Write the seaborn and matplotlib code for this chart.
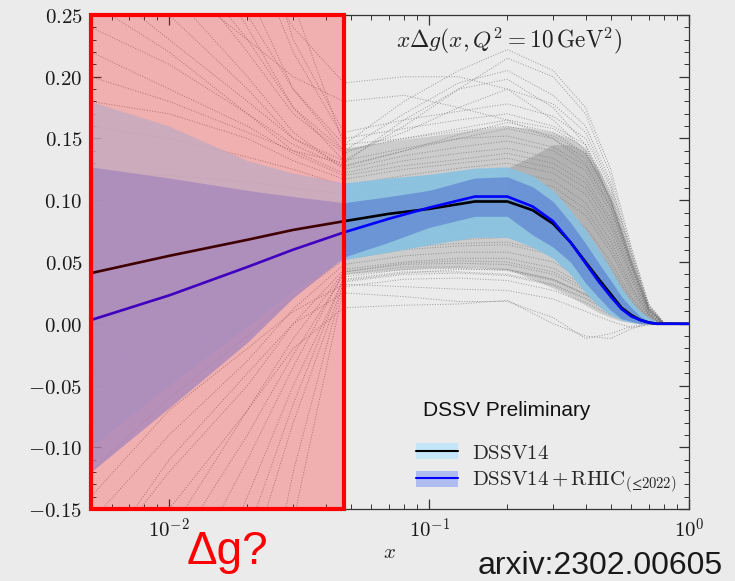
import numpy as np
import pandas as pd
import matplotlib
matplotlib.use("Agg")
import matplotlib.pyplot as plt
from matplotlib.patches import Rectangle, Patch
from matplotlib.lines import Line2D
from matplotlib.ticker import FuncFormatter, MultipleLocator, LogLocator, NullFormatter
import seaborn as sns

# ---------------------------------------------------------------- data
# x grid of the central fits and their uncertainty bands
x_grid = [0.005, 0.01, 0.02, 0.03, 0.047, 0.07, 0.1, 0.15, 0.2, 0.25, 0.3, 0.35,
          0.4, 0.45, 0.5, 0.55, 0.6, 0.65, 0.7, 0.75, 0.8, 0.9, 1.0]

dssv14_central = [0.041, 0.055, 0.068, 0.076, 0.083, 0.089, 0.093, 0.099, 0.099, 0.092, 0.081, 0.066,
                  0.050, 0.036, 0.024, 0.013, 0.007, 0.003, 0.001, 0.0, 0.0, 0.0, 0.0]
dssv14_upper = [0.180, 0.160, 0.132, 0.122, 0.114, 0.118, 0.121, 0.126, 0.127, 0.120, 0.108, 0.092,
                0.076, 0.060, 0.044, 0.029, 0.018, 0.010, 0.005, 0.002, 0.0, 0.0, 0.0]
dssv14_lower = [-0.100, -0.050, -0.002, 0.026, 0.052, 0.058, 0.064, 0.070, 0.070, 0.062, 0.053, 0.040,
                0.025, 0.014, 0.007, 0.003, 0.001, 0.0, 0.0, 0.0, 0.0, 0.0, 0.0]

rhic_central = [0.003, 0.023, 0.046, 0.060, 0.074, 0.085, 0.094, 0.103, 0.103, 0.095, 0.083, 0.066,
                0.049, 0.034, 0.022, 0.012, 0.006, 0.003, 0.001, 0.0, 0.0, 0.0, 0.0]
rhic_upper = [0.127, 0.118, 0.108, 0.103, 0.098, 0.103, 0.108, 0.118, 0.119, 0.111, 0.099, 0.082,
              0.065, 0.049, 0.035, 0.022, 0.013, 0.006, 0.002, 0.0, 0.0, 0.0, 0.0]
rhic_lower = [-0.120, -0.068, -0.015, 0.021, 0.054, 0.066, 0.078, 0.087, 0.087, 0.072, 0.062, 0.050,
              0.033, 0.021, 0.011, 0.004, 0.002, 0.0, 0.0, 0.0, 0.0, 0.0, 0.0]

# envelope of the densely populated replica region
core_x = [0.047, 0.07, 0.1, 0.15, 0.2, 0.25, 0.3, 0.35, 0.4, 0.45, 0.5, 0.55, 0.6, 0.65, 0.7, 0.75, 0.8]
core_hi = [0.142, 0.148, 0.152, 0.157, 0.160, 0.158, 0.155, 0.150, 0.141, 0.125, 0.104, 0.078,
           0.052, 0.030, 0.012, 0.003, 0.0]
core_lo = [0.040, 0.043, 0.045, 0.046, 0.044, 0.036, 0.029, 0.022, 0.015, 0.009, 0.005, 0.002,
           0.001, 0.0, 0.0, 0.0, 0.0]

# where the replicas pile up while falling off at large x
fall_x = [0.2, 0.25, 0.3, 0.35, 0.4, 0.45, 0.5, 0.55, 0.6, 0.65, 0.7, 0.75, 0.8]
fall_hi = [0.126, 0.136, 0.145, 0.145, 0.138, 0.122, 0.100, 0.075, 0.050, 0.028, 0.011, 0.003, 0.0]
fall_lo = [0.100, 0.090, 0.080, 0.064, 0.048, 0.034, 0.022, 0.012, 0.006, 0.003, 0.001, 0.0, 0.0]

# individual replicas of the DSSV14 fit
rep_x = [0.005, 0.01, 0.02, 0.03, 0.047, 0.08, 0.13, 0.2, 0.3, 0.4, 0.5, 0.6, 0.7, 0.8, 1.0]

reps_upper = [
    [0.62, 0.46, 0.31, 0.22, 0.150, 0.158, 0.165, 0.170, 0.160, 0.145, 0.107, 0.054, 0.013, 0.0, 0.0],
    [0.52, 0.39, 0.27, 0.19, 0.140, 0.150, 0.156, 0.160, 0.152, 0.138, 0.100, 0.050, 0.012, 0.0, 0.0],
    [0.44, 0.34, 0.24, 0.175, 0.132, 0.142, 0.150, 0.152, 0.143, 0.128, 0.094, 0.047, 0.011, 0.0, 0.0],
    [0.37, 0.30, 0.22, 0.17, 0.138, 0.155, 0.175, 0.190, 0.178, 0.155, 0.112, 0.058, 0.014, 0.001, 0.0],
    [0.33, 0.27, 0.20, 0.155, 0.125, 0.136, 0.143, 0.148, 0.140, 0.124, 0.090, 0.045, 0.010, 0.0, 0.0],
    [0.30, 0.25, 0.19, 0.15, 0.128, 0.140, 0.150, 0.158, 0.150, 0.134, 0.098, 0.049, 0.012, 0.0, 0.0],
    [0.28, 0.23, 0.18, 0.15, 0.132, 0.160, 0.190, 0.215, 0.200, 0.170, 0.120, 0.060, 0.015, 0.001, 0.0],
    [0.26, 0.22, 0.17, 0.14, 0.122, 0.132, 0.138, 0.142, 0.134, 0.118, 0.085, 0.042, 0.010, 0.0, 0.0],
    [0.24, 0.21, 0.17, 0.145, 0.127, 0.140, 0.153, 0.163, 0.155, 0.138, 0.102, 0.052, 0.013, 0.0, 0.0],
    [0.22, 0.19, 0.16, 0.138, 0.120, 0.128, 0.133, 0.138, 0.130, 0.114, 0.082, 0.040, 0.009, 0.0, 0.0],
    [0.20, 0.18, 0.155, 0.14, 0.130, 0.165, 0.190, 0.198, 0.175, 0.145, 0.100, 0.048, 0.011, 0.0, 0.0],
    [0.46, 0.35, 0.25, 0.19, 0.145, 0.180, 0.205, 0.222, 0.205, 0.175, 0.125, 0.062, 0.016, 0.001, 0.0],
    [0.75, 0.55, 0.35, 0.23, 0.155, 0.165, 0.172, 0.178, 0.168, 0.150, 0.110, 0.056, 0.014, 0.0, 0.0],
    [0.18, 0.17, 0.15, 0.132, 0.117, 0.125, 0.130, 0.134, 0.126, 0.110, 0.078, 0.038, 0.008, 0.0, 0.0],
    [0.95, 0.68, 0.42, 0.26, 0.145, 0.150, 0.158, 0.165, 0.158, 0.142, 0.105, 0.052, 0.012, 0.0, 0.0],
    [0.40, 0.31, 0.23, 0.175, 0.140, 0.170, 0.195, 0.205, 0.185, 0.160, 0.115, 0.056, 0.013, 0.0, 0.0],
    [0.50, 0.40, 0.30, 0.24, 0.195, 0.200, 0.200, 0.190, 0.165, 0.140, 0.100, 0.050, 0.012, 0.0, 0.0],
    [0.32, 0.28, 0.23, 0.20, 0.180, 0.185, 0.175, 0.165, 0.150, 0.130, 0.095, 0.046, 0.011, 0.0, 0.0],
]

reps_core = [
    [0.16, 0.15, 0.135, 0.125, 0.112, 0.120, 0.126, 0.130, 0.122, 0.105, 0.073, 0.035, 0.008, 0.0, 0.0],
    [0.12, 0.12, 0.115, 0.11, 0.105, 0.114, 0.120, 0.124, 0.116, 0.098, 0.067, 0.031, 0.007, 0.0, 0.0],
    [0.08, 0.085, 0.09, 0.092, 0.094, 0.104, 0.110, 0.114, 0.106, 0.088, 0.058, 0.026, 0.006, 0.0, 0.0],
    [0.04, 0.055, 0.07, 0.077, 0.083, 0.094, 0.100, 0.104, 0.096, 0.078, 0.050, 0.022, 0.005, 0.0, 0.0],
    [0.0, 0.025, 0.05, 0.062, 0.074, 0.084, 0.089, 0.092, 0.085, 0.068, 0.043, 0.018, 0.004, 0.0, 0.0],
    [-0.04, -0.005, 0.03, 0.05, 0.066, 0.076, 0.080, 0.082, 0.075, 0.058, 0.035, 0.014, 0.003, 0.0, 0.0],
    [0.10, 0.10, 0.10, 0.10, 0.099, 0.109, 0.115, 0.119, 0.111, 0.093, 0.062, 0.029, 0.007, 0.0, 0.0],
    [0.02, 0.04, 0.06, 0.07, 0.078, 0.089, 0.095, 0.098, 0.090, 0.073, 0.046, 0.020, 0.004, 0.0, 0.0],
]

reps_lower = [
    [-0.08, -0.03, 0.01, 0.035, 0.058, 0.065, 0.068, 0.070, 0.062, 0.046, 0.026, 0.009, 0.002, 0.0, 0.0],
    [-0.12, -0.06, -0.01, 0.022, 0.052, 0.060, 0.063, 0.064, 0.056, 0.040, 0.022, 0.008, 0.001, 0.0, 0.0],
    [-0.16, -0.09, -0.03, 0.012, 0.048, 0.055, 0.058, 0.058, 0.050, 0.035, 0.019, 0.006, 0.001, 0.0, 0.0],
    [-0.20, -0.12, -0.05, 0.0, 0.044, 0.050, 0.053, 0.053, 0.045, 0.031, 0.016, 0.005, 0.001, 0.0, 0.0],
    [-0.25, -0.15, -0.07, -0.012, 0.042, 0.048, 0.049, 0.048, 0.040, 0.027, 0.014, 0.004, 0.0, 0.0, 0.0],
    [-0.30, -0.19, -0.09, -0.025, 0.040, 0.046, 0.046, 0.044, 0.036, 0.024, 0.012, 0.003, 0.0, 0.0, 0.0],
    [-0.36, -0.23, -0.11, -0.035, 0.042, 0.049, 0.051, 0.050, 0.042, 0.029, 0.015, 0.004, 0.0, 0.0, 0.0],
    [-0.45, -0.29, -0.14, -0.05, 0.036, 0.042, 0.042, 0.040, 0.032, 0.021, 0.010, 0.003, 0.0, 0.0, 0.0],
    [-0.55, -0.35, -0.17, -0.065, 0.038, 0.044, 0.045, 0.043, 0.035, 0.023, 0.011, 0.003, 0.0, 0.0, 0.0],
    [-0.20, -0.11, -0.04, 0.0, 0.025, 0.022, 0.018, 0.018, 0.005, -0.012, -0.008, -0.002, 0.0, 0.0, 0.0],
    [-0.30, -0.17, -0.07, -0.02, 0.013, 0.015, 0.016, 0.019, 0.0, -0.010, -0.012, -0.004, 0.0, 0.0, 0.0],
    [-0.14, -0.07, -0.02, 0.01, 0.032, 0.030, 0.028, 0.027, 0.020, 0.010, 0.002, -0.003, -0.001, 0.0, 0.0],
    [-0.65, -0.42, -0.20, -0.08, 0.034, 0.040, 0.041, 0.039, 0.031, 0.020, 0.009, 0.002, 0.0, 0.0, 0.0],
    [-0.10, -0.045, 0.0, 0.03, 0.055, 0.062, 0.065, 0.066, 0.058, 0.043, 0.024, 0.008, 0.001, 0.0, 0.0],
    [-1.20, -0.80, -0.40, -0.16, 0.030, 0.036, 0.037, 0.035, 0.027, 0.017, 0.007, 0.001, 0.0, 0.0, 0.0],
    [-0.90, -0.60, -0.30, -0.12, 0.035, 0.041, 0.044, 0.044, 0.036, 0.024, 0.012, 0.003, 0.0, 0.0, 0.0],
]

# small-x region where the gluon polarisation is unconstrained
small_x_edges = [0.005, 0.047]

x_limits = [0.005, 1.0]
y_limits = [-0.15, 0.25]
label_dssv14 = r"$\mathrm{DSSV14}$"
label_rhic = r"$\mathrm{DSSV14+RHIC}_{(≤2022)}$"

# ---------------------------------------------------------------- style
BG = "#ebebeb"
sns.set_style("ticks")
plt.rcParams.update({
    "font.family": ["DejaVu Sans"],
    "mathtext.fontset": "cm",
    "figure.facecolor": BG,
    "axes.facecolor": BG,
    "axes.edgecolor": "#333333",
    "axes.linewidth": 0.9,
    "xtick.color": "#333333",
    "ytick.color": "#333333",
    "xtick.labelcolor": "#1a1a1a",
    "ytick.labelcolor": "#1a1a1a",
})

fig = plt.figure(figsize=(7.35, 5.81), dpi=100)
ax = fig.add_axes([0.1238, 0.1239, 0.9374 - 0.1238, 0.9742 - 0.1239])
ax.set_xscale("log")

xg = np.array(x_grid)
left = xg <= small_x_edges[1] + 1e-9
right = xg >= small_x_edges[1] - 1e-9

# dense part of the replica cloud
ax.fill_between(core_x, core_lo, core_hi, color="#a8a8a8", alpha=0.45, lw=0, zorder=1)
ax.fill_between(fall_x, fall_lo, fall_hi, color="#8a8a8a", alpha=0.38, lw=0, zorder=1.1)

# replica curves
rows = []
rep_id = 0
for group in (reps_upper, reps_core, reps_lower):
    for vals in group:
        for xv, yv in zip(rep_x, vals):
            rows.append({"x": xv, "y": yv, "rep": rep_id})
        rep_id += 1
reps_df = pd.DataFrame(rows)
sns.lineplot(data=reps_df, x="x", y="y", units="rep", estimator=None, ax=ax,
             color="#767676", lw=0.7, ls=":", alpha=0.7, legend=False, zorder=1.5)

# uncertainty bands (paler where they are wide)
lo14, hi14 = np.array(dssv14_lower), np.array(dssv14_upper)
loR, hiR = np.array(rhic_lower), np.array(rhic_upper)
ax.fill_between(xg[left], lo14[left], hi14[left], color="#b4e4ff", alpha=0.85, lw=0, zorder=2)
ax.fill_between(xg[right], lo14[right], hi14[right], color="#88c2e2", alpha=0.9, lw=0, zorder=2)
ax.fill_between(xg[left], loR[left], hiR[left], color="#87b4fd", alpha=0.75, lw=0, zorder=3)
ax.fill_between(xg[right], loR[right], hiR[right], color="#658dd4", alpha=0.85, lw=0, zorder=3)

# central fits
sns.lineplot(x=x_grid, y=dssv14_central, ax=ax, color="black", lw=1.9, zorder=4, legend=False)
sns.lineplot(x=x_grid, y=rhic_central, ax=ax, color="#0000ff", lw=1.9, zorder=5, legend=False)

# highlighted small-x region
y0, y1 = y_limits
ax.add_patch(Rectangle((small_x_edges[0], y0), small_x_edges[1] - small_x_edges[0], y1 - y0,
                       facecolor=(1, 0, 0, 0.25), edgecolor="none", zorder=6))
ax.add_patch(Rectangle((small_x_edges[0], y0), small_x_edges[1] - small_x_edges[0], y1 - y0,
                       fill=False, edgecolor="#ff0000", lw=3.0, zorder=10, clip_on=False))

# axes
ax.set_xlim(*x_limits)
ax.set_ylim(*y_limits)
ax.yaxis.set_major_locator(MultipleLocator(0.05))
ax.yaxis.set_minor_locator(MultipleLocator(0.01))
ax.xaxis.set_major_locator(LogLocator(base=10))
ax.xaxis.set_minor_locator(LogLocator(base=10, subs=np.arange(2, 10)))
ax.xaxis.set_minor_formatter(NullFormatter())
ax.yaxis.set_major_formatter(FuncFormatter(lambda v, _: f"${v:.2f}$"))
ax.xaxis.set_major_formatter(FuncFormatter(lambda v, _: f"$10^{{{int(round(np.log10(v)))}}}$"))
ax.tick_params(which="both", direction="in", top=True, right=True, labelsize=15, pad=6)
ax.tick_params(which="major", length=7, width=0.9)
ax.tick_params(which="minor", length=3.5, width=0.7)
ax.set_xlabel(r"$x$", fontsize=15, labelpad=0)
ax.set_ylabel("")
for s in ax.spines.values():
    s.set_zorder(7)

ax.text(0.70, 0.949, r"$x\Delta g(x, Q^2 = 10\,\mathrm{GeV}^2)$", transform=ax.transAxes,
        ha="center", va="center", fontsize=16.8, color="#222222", zorder=8)
ax.text(0.555, 0.200, "DSSV Preliminary", transform=ax.transAxes, ha="left", va="center",
        fontsize=15, family=["Liberation Sans", "DejaVu Sans"], color="#111111", zorder=8)

handles = [
    (Patch(facecolor="#c4e6f8", edgecolor="none"), Line2D([], [], color="black", lw=1.5)),
    (Patch(facecolor="#b0bdf0", edgecolor="none"), Line2D([], [], color="#0000ff", lw=1.5)),
]
leg = ax.legend(handles, [label_dssv14, label_rhic], loc="center left",
                bbox_to_anchor=(0.5435, 0.081), frameon=False, fontsize=15,
                handlelength=2.0, handleheight=0.8, handletextpad=0.7,
                labelspacing=0.35, borderpad=0, borderaxespad=0)
leg.set_zorder(8)

fig.text(227 / 735, 1 - 552 / 581, "\u0394g?", color="#ff0000", fontsize=33,
         family=["Liberation Sans", "DejaVu Sans"], ha="center", va="center")
fig.text(0.984, 1 - 574 / 581, "arxiv:2302.00605", color="#1a1a1a", fontsize=23,
         family=["Liberation Sans", "DejaVu Sans"], ha="right", va="baseline")

fig.savefig("out.png", dpi=100, facecolor=BG)
